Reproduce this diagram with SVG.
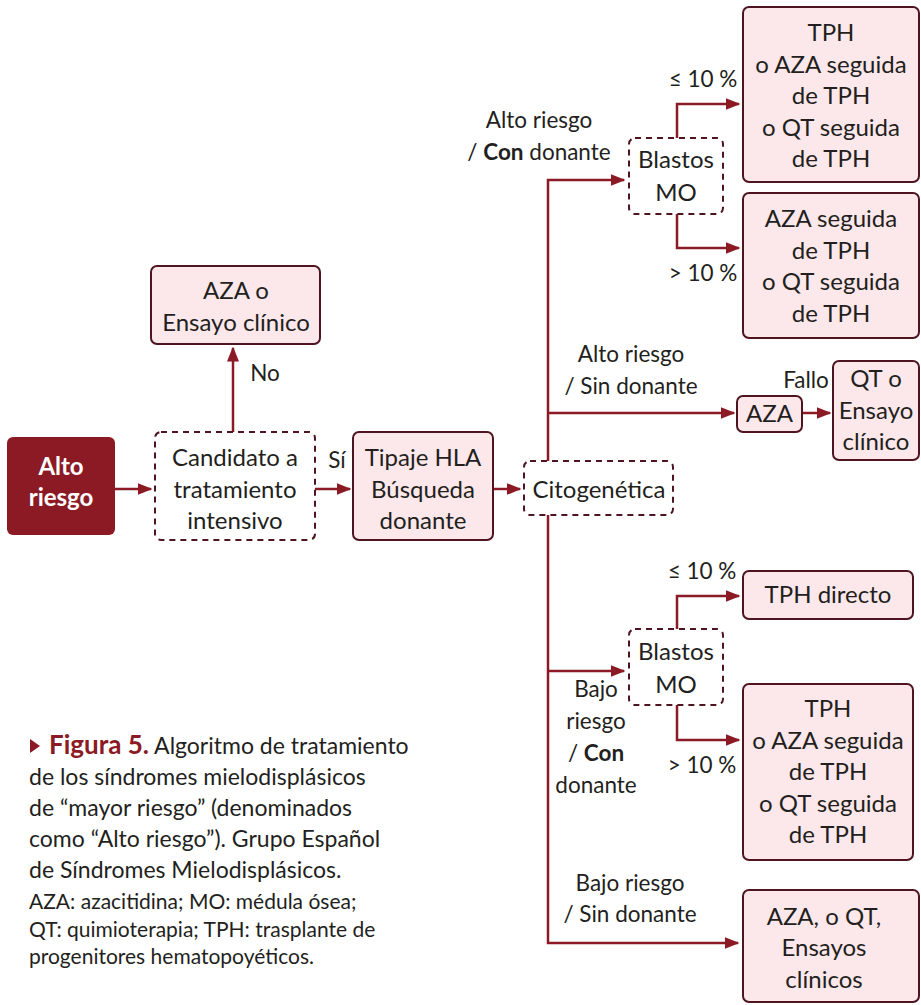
<svg xmlns="http://www.w3.org/2000/svg" width="921" height="1005" viewBox="0 0 921 1005">
<style>
.t{font-family:Lato,"Noto Sans",sans-serif;font-size:24px;fill:#231f20;text-anchor:middle}
.l{font-family:Lato,"Noto Sans",sans-serif;font-size:22.5px;fill:#231f20;text-anchor:middle}
.box{fill:#fce8ea;stroke:#4e1520;stroke-width:2}
.dash{fill:#fff;stroke:#4e1520;stroke-width:2;stroke-dasharray:6 5}
.c{fill:none;stroke:#8b1a24;stroke-width:2.5}
.cap{font-family:Lato,"Noto Sans",sans-serif;font-size:23px;fill:#231f20}
.sm{font-family:Lato,"Noto Sans",sans-serif;font-size:21px;fill:#231f20}
</style>
<defs>
<marker id="ar" viewBox="0 0 10 10" refX="9" refY="5" markerWidth="6" markerHeight="6" orient="auto" markerUnits="strokeWidth">
<path d="M0,1 L10,5 L0,9 Z" fill="#8b1a24"/>
</marker>
</defs>
<g id="connectors">
<path class="c" d="M115,489 H151" marker-end="url(#ar)"/>
<path class="c" d="M233,432 V348" marker-end="url(#ar)"/>
<path class="c" d="M315,489 H350" marker-end="url(#ar)"/>
<path class="c" d="M493,489 H520" marker-end="url(#ar)"/>
<path class="c" d="M548,461 V180 H624" marker-end="url(#ar)"/>
<path class="c" d="M548,515 V943 H738" marker-end="url(#ar)"/>
<path class="c" d="M548,413 H734" marker-end="url(#ar)"/>
<path class="c" d="M548,671 H624" marker-end="url(#ar)"/>
<path class="c" d="M677,138 V104 H739" marker-end="url(#ar)"/>
<path class="c" d="M677,214 V248 H739" marker-end="url(#ar)"/>
<path class="c" d="M677,629 V596 H739" marker-end="url(#ar)"/>
<path class="c" d="M677,705 V740 H739" marker-end="url(#ar)"/>
<path class="c" d="M802,413 H830" marker-end="url(#ar)"/>
<text class="l" x="265" y="381">No</text>
<text class="l" x="337" y="468">Sí</text>
<text class="l" x="539" y="128">Alto riesgo</text>
<text class="l" x="539" y="160">/ <tspan font-weight="bold">Con</tspan> donante</text>
<text class="l" x="703" y="87">≤ 10 %</text>
<text class="l" x="703" y="281">&gt; 10 %</text>
<text class="l" x="631" y="362">Alto riesgo</text>
<text class="l" x="631" y="394">/ Sin donante</text>
<text class="l" x="806" y="388">Fallo</text>
<text class="l" x="702" y="579">≤ 10 %</text>
<text class="l" x="702" y="773">&gt; 10 %</text>
<text class="l" x="596" y="697">Bajo</text>
<text class="l" x="596" y="729">riesgo</text>
<text class="l" x="596" y="761">/ <tspan font-weight="bold">Con</tspan></text>
<text class="l" x="596" y="793">donante</text>
<text class="l" x="630" y="891">Bajo riesgo</text>
<text class="l" x="630" y="922">/ Sin donante</text>
</g>
<g id="alto">
<rect x="7" y="437" width="108" height="98" rx="6" fill="#8b1a24"/>
<text class="t" x="61" y="475" style="fill:#fff;font-weight:bold">Alto</text>
<text class="t" x="61" y="506" style="fill:#fff;font-weight:bold">riesgo</text>
</g>
<g id="candidato">
<rect class="dash" x="155" y="432" width="160" height="108" rx="6"/>
<text class="t" x="235" y="466">Candidato a</text>
<text class="t" x="235" y="498">tratamiento</text>
<text class="t" x="235" y="529">intensivo</text>
</g>
<g id="aza1">
<rect class="box" x="151" y="266" width="169" height="78" rx="6"/>
<text class="t" x="236" y="299">AZA o</text>
<text class="t" x="236" y="331">Ensayo clínico</text>
</g>
<g id="tipaje">
<rect class="box" x="353" y="432" width="140" height="108" rx="6"/>
<text class="t" x="423" y="466">Tipaje HLA</text>
<text class="t" x="423" y="498">Búsqueda</text>
<text class="t" x="423" y="529">donante</text>
</g>
<g id="cito">
<rect class="dash" x="524" y="461" width="149" height="54" rx="6"/>
<text class="t" x="599" y="498">Citogenética</text>
</g>
<g id="blastos1">
<rect class="dash" x="629" y="138" width="94" height="76" rx="6"/>
<text class="t" x="676" y="168">Blastos</text>
<text class="t" x="676" y="201">MO</text>
</g>
<g id="box1">
<rect class="box" x="743" y="7" width="176" height="175" rx="6"/>
<text class="t" x="831" y="41">TPH</text>
<text class="t" x="831" y="73">o AZA seguida</text>
<text class="t" x="831" y="104">de TPH</text>
<text class="t" x="831" y="136">o QT seguida</text>
<text class="t" x="831" y="167">de TPH</text>
</g>
<g id="box2">
<rect class="box" x="743" y="193" width="176" height="145" rx="6"/>
<text class="t" x="831" y="227">AZA seguida</text>
<text class="t" x="831" y="259">de TPH</text>
<text class="t" x="831" y="290">o QT seguida</text>
<text class="t" x="831" y="322">de TPH</text>
</g>
<g id="aza2">
<rect class="box" x="737" y="396" width="65" height="36" rx="6"/>
<text class="t" x="769.5" y="422">AZA</text>
</g>
<g id="qt">
<rect class="box" x="833" y="361" width="86" height="99" rx="6"/>
<text class="t" x="876" y="387">QT o</text>
<text class="t" x="876" y="419">Ensayo</text>
<text class="t" x="876" y="450">clínico</text>
</g>
<g id="blastos2">
<rect class="dash" x="629" y="629" width="94" height="76" rx="6"/>
<text class="t" x="676" y="660">Blastos</text>
<text class="t" x="676" y="693">MO</text>
</g>
<g id="directo">
<rect class="box" x="743" y="571" width="170" height="48" rx="6"/>
<text class="t" x="828" y="603">TPH directo</text>
</g>
<g id="box3">
<rect class="box" x="743" y="684" width="170" height="176" rx="6"/>
<text class="t" x="828" y="717">TPH</text>
<text class="t" x="828" y="749">o AZA seguida</text>
<text class="t" x="828" y="780">de TPH</text>
<text class="t" x="828" y="812">o QT seguida</text>
<text class="t" x="828" y="843">de TPH</text>
</g>
<g id="box4">
<rect class="box" x="743" y="890" width="176" height="112" rx="6"/>
<text class="t" x="824" y="925">AZA, o QT,</text>
<text class="t" x="824" y="956">Ensayos</text>
<text class="t" x="824" y="988">clínicos</text>
</g>
<g id="caption">
<path d="M30,739 L40,746 L30,753 Z" fill="#8b1a24"/>
<text class="cap" x="49" y="754"><tspan font-weight="bold" fill="#8b1a24" font-size="26">Figura 5.</tspan> Algoritmo de tratamiento</text>
<text class="cap" x="29" y="785">de los síndromes mielodisplásicos</text>
<text class="cap" x="29" y="816">de “mayor riesgo” (denominados</text>
<text class="cap" x="29" y="847">como “Alto riesgo”). Grupo Español</text>
<text class="cap" x="29" y="878">de Síndromes Mielodisplásicos.</text>
<text class="sm" x="29" y="909">AZA: azacitidina; MO: médula ósea;</text>
<text class="sm" x="29" y="937">QT: quimioterapia; TPH: trasplante de</text>
<text class="sm" x="29" y="964">progenitores hematopoyéticos.</text>
</g>
</svg>
